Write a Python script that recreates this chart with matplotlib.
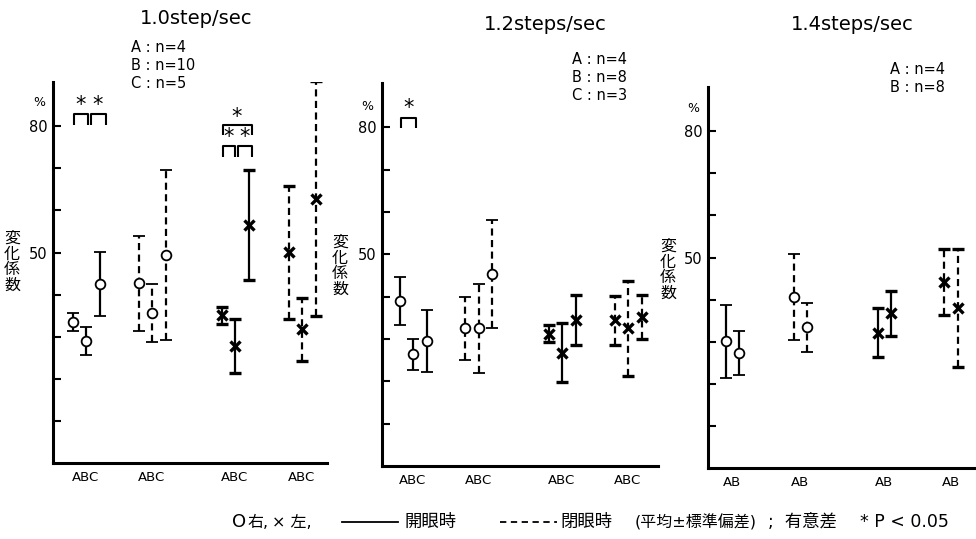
#!/usr/bin/env python3

import numpy as np
import matplotlib.pyplot as plt
from matplotlib.lines import Line2D

plt.rcParams['font.family'] = [ 'DejaVu Sans', 'Noto Sans CJK JP' ]

# Coefficient of variation (%), mean and SD per subject group
# 1.0 step/sec  (groups A, B, C)
n_10            = [ 4, 10, 5 ]
r_open_10_mean  = [ 33.5, 29.0, 42.5 ]
r_open_10_sd    = [  2.2,  3.4,  7.7 ]
r_close_10_mean = [ 42.7, 35.6, 49.4 ]
r_close_10_sd   = [ 11.3,  6.8, 20.2 ]
l_open_10_mean  = [ 35.1, 27.7, 56.5 ]
l_open_10_sd    = [  2.0,  6.4, 13.1 ]
l_close_10_mean = [ 50.1, 31.8, 62.8 ]
l_close_10_sd   = [ 15.8,  7.5, 28.0 ]

# 1.2 steps/sec (groups A, B, C)
n_12            = [ 4, 8, 3 ]
r_open_12_mean  = [ 39.0, 26.4, 29.5 ]
r_open_12_sd    = [  5.6,  3.7,  7.4 ]
r_close_12_mean = [ 32.5, 32.5, 45.4 ]
r_close_12_sd   = [  7.5, 10.6, 12.7 ]
l_open_12_mean  = [ 31.3, 26.8, 34.4 ]
l_open_12_sd    = [  1.9,  7.0,  5.9 ]
l_close_12_mean = [ 34.4, 32.5, 35.2 ]
l_close_12_sd   = [  5.7, 11.2,  5.2 ]

# 1.4 steps/sec (groups A, B)
n_14            = [ 4, 8 ]
r_open_14_mean  = [ 30.1, 27.4 ]
r_open_14_sd    = [  8.7,  5.2 ]
r_close_14_mean = [ 40.6, 33.4 ]
r_close_14_sd   = [ 10.2,  5.9 ]
l_open_14_mean  = [ 32.1, 36.7 ]
l_open_14_sd    = [  5.8,  5.4 ]
l_close_14_mean = [ 44.2, 38.0 ]
l_close_14_sd   = [  7.9, 14.1 ]

titles = [ '1.0step/sec', '1.2steps/sec', '1.4steps/sec' ]

W, H = 976, 539

def pxAxes( fig, left, top, right, bottom ):
    return fig.add_axes( [ left / W, 1 - bottom / H,
                           ( right - left ) / W, ( bottom - top ) / H ] )

def figText( fig, x, y, s, **kw ):
    return fig.text( x / W, 1 - y / H, s, **kw )

def drawSeries( ax, xs, mean, sd, marker, dashed ):
    if marker == 'o':
        style = dict( ms = 7, mew = 1.3, mfc = 'white' )
    else:
        style = dict( ms = 7, mew = 2.4 )
    eb = ax.errorbar( xs, mean, yerr = sd, fmt = marker, color = 'k',
                      ecolor = 'k', elinewidth = 1.6, capsize = 4.5,
                      capthick = 1.6, zorder = 3, **style )
    if dashed:
        eb[2][0].set_linestyle( ( 0, ( 3.2, 2.0 ) ) )

def bracket( ax, x0, x1, y, h = 2.6 ):
    ax.plot( [ x0, x0, x1, x1 ], [ y - h, y, y, y - h ], color = 'k',
             lw = 1.5, solid_capstyle = 'butt', clip_on = False )

def star( ax, x, y ):
    ax.text( x, y, '*', ha = 'center', va = 'center', fontsize = 15 )

def main():

    fig = plt.figure( figsize = ( W / 100, H / 100 ), dpi = 100 )

    # axes boxes in pixels: left, top, right, bottom
    boxes   = [ ( 53, 82, 327, 463 ), ( 382, 83, 658, 466 ),
                ( 708, 87, 976, 468 ) ]
    centers = [ [ 33, 99, 182, 249 ], [ 31, 96.5, 180, 246 ],
                [ 24.5, 92.5, 176.5, 243 ] ]
    step    = 13.5

    panels = [
        ( n_10, [ ( r_open_10_mean,  r_open_10_sd  ),
                  ( r_close_10_mean, r_close_10_sd ),
                  ( l_open_10_mean,  l_open_10_sd  ),
                  ( l_close_10_mean, l_close_10_sd ) ] ),
        ( n_12, [ ( r_open_12_mean,  r_open_12_sd  ),
                  ( r_close_12_mean, r_close_12_sd ),
                  ( l_open_12_mean,  l_open_12_sd  ),
                  ( l_close_12_mean, l_close_12_sd ) ] ),
        ( n_14, [ ( r_open_14_mean,  r_open_14_sd  ),
                  ( r_close_14_mean, r_close_14_sd ),
                  ( l_open_14_mean,  l_open_14_sd  ),
                  ( l_close_14_mean, l_close_14_sd ) ] ),
    ]
    markers = [ 'o', 'o', 'x', 'x' ]
    dashed  = [ False, True, False, True ]

    for iP in range( 3 ):

        left, top, right, bottom = boxes[iP]
        ax = pxAxes( fig, left, top, right, bottom )

        nGroup, series = panels[iP]
        nMem = len( nGroup )
        groupNames = 'ABC'[:nMem]

        xPos = []
        for iS in range( 4 ):
            xs = centers[iP][iS] + ( np.arange( nMem ) - ( nMem - 1 ) / 2 ) * step
            xPos.append( xs )
            drawSeries( ax, xs, series[iS][0], series[iS][1],
                        markers[iS], dashed[iS] )

        ax.set_xlim( 0, right - left )
        ax.set_ylim( 0, 90.5 )

        for side in [ 'top', 'right' ]:
            ax.spines[side].set_visible( False )
        for side in [ 'left', 'bottom' ]:
            ax.spines[side].set_linewidth( 2.2 )

        ax.set_yticks( np.arange( 10, 90, 10 ) )
        ax.set_yticklabels( [ '50' if v == 50 else '80' if v == 80 else ''
                              for v in range( 10, 90, 10 ) ] )
        ax.tick_params( axis = 'y', direction = 'in', length = 6, width = 1.5,
                        labelsize = 10.5, pad = 4 )
        ax.set_xticks( centers[iP] )
        ax.set_xticklabels( [ groupNames ] * 4 )
        ax.tick_params( axis = 'x', length = 0, labelsize = 9.5, pad = 6 )

        # group sizes
        nx = [ 131, 572, 890 ][iP]
        ny = [ 47, 60, 70 ][iP]
        for iG in range( nMem ):
            figText( fig, nx, ny + iG * 18,
                     '{:} : n={:d}'.format( groupNames[iG], nGroup[iG] ),
                     ha = 'left', va = 'center', fontsize = 10.5 )

        figText( fig, [ 39, 367, 693 ][iP], [ 103, 106, 109 ][iP], '%',
                 ha = 'center', va = 'center', fontsize = 9 )
        figText( fig, [ 12, 340, 668 ][iP], [ 262, 266, 270 ][iP],
                 '変\n化\n係\n数', ha = 'center', va = 'center',
                 fontsize = 11.5, linespacing = 1.05 )

        figText( fig, [ 196, 545, 852 ][iP], [ 18, 25, 24 ][iP], titles[iP],
                 ha = 'center', va = 'center', fontsize = 14 )

        if iP == 0:
            xa, xb, xc = xPos[0]
            bracket( ax, xa + 1.5, xb + 1.5, 82.8 )
            bracket( ax, xb + 4.5, xc + 6.0, 82.8 )
            star( ax, ( xa + xb ) / 2 + 1.5, 85.0 )
            star( ax, ( xb + xc ) / 2 + 5.0, 85.0 )
            xa, xb, xc = xPos[2]
            bracket( ax, xa + 1.0, xc + 3.0, 80.2, h = 2.3 )
            bracket( ax, xa + 1.0, xb, 75.3 )
            bracket( ax, xb + 3.0, xc + 3.0, 75.3 )
            star( ax, ( xa + xc ) / 2 + 2.0, 82.1 )
            star( ax, ( xa + xb ) / 2 + 0.5, 77.4 )
            star( ax, ( xb + xc ) / 2 + 3.0, 77.4 )
        elif iP == 1:
            xa, xb, xc = xPos[0]
            bracket( ax, xa + 1.0, xb + 3.0, 82.3, h = 2.4 )
            star( ax, ( xa + xb ) / 2 + 2.0, 84.6 )

    # legend row
    ly = 522
    figText( fig, 232, ly, 'O', ha = 'left', va = 'center', fontsize = 13 )
    figText( fig, 248, ly, '右,', ha = 'left', va = 'center', fontsize = 11.5 )
    figText( fig, 272, ly, '× 左,', ha = 'left', va = 'center', fontsize = 11.5 )
    fig.add_artist( Line2D( [ 342 / W, 398 / W ], [ 1 - ly / H ] * 2,
                            color = 'k', lw = 1.3 ) )
    figText( fig, 405, ly, '開眼時', ha = 'left', va = 'center', fontsize = 12.5 )
    fig.add_artist( Line2D( [ 500 / W, 557 / W ], [ 1 - ly / H ] * 2,
                            color = 'k', lw = 1.3, ls = ( 0, ( 3.5, 2.5 ) ) ) )
    figText( fig, 560, ly, '閉眼時', ha = 'left', va = 'center', fontsize = 12.5 )
    figText( fig, 635, ly, '(平均±標準偏差)', ha = 'left', va = 'center',
             fontsize = 11.5 )
    figText( fig, 768, ly, ';  有意差', ha = 'left', va = 'center',
             fontsize = 12.5 )
    figText( fig, 860, ly, '* P < 0.05', ha = 'left', va = 'center',
             fontsize = 12.5 )

    plt.savefig( 'out.png', dpi = 100 )

if __name__ == '__main__':

    main()
